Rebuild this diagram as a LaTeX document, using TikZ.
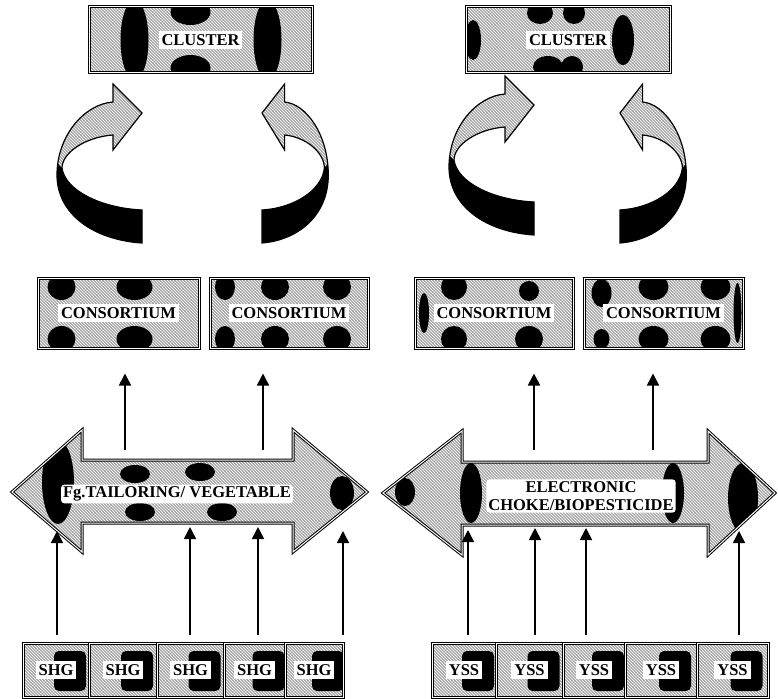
\documentclass[tikz,border=0pt]{standalone}
\usepackage{fontspec}
\setmainfont{Liberation Serif}
\usetikzlibrary{arrows.meta,calc,patterns}
\newcommand\lab[1]{{\setlength\fboxsep{3pt}\colorbox{white}{#1}}}
\newcommand\blb[4]{\fill[black] ($(path picture bounding box.center)+(#1,#2)$) ellipse [x radius=#3pt, y radius=#4pt];}
\newcommand\sblk{\fill[black, rounded corners=5pt] ($(path picture bounding box.center)+(-2,-19)$) rectangle ($(path picture bounding box.center)+(30,21)$);}
\newcommand\cpath{(0,130) .. controls (-47,127) and (-85,102) .. (-85,62) .. controls (-85,22) and (-57,-9) .. (-29,-11) -- (-29,-29) -- (0,0) -- (-29,37) -- (-29,22) .. controls (-57,24) and (-80,40) .. (-80,55) .. controls (-77,77) and (-42,95) .. (0,97) -- cycle}
\newcommand\daL{(12,492) -- (82,430) -- (82,460) -- (293,460) -- (293,430) -- (367,492) -- (293,552) -- (293,523) -- (82,523) -- (82,552) -- cycle}
\newcommand\daR{(383,493) -- (462,431) -- (462,462) -- (708,462) -- (708,431) -- (775,493) -- (708,555) -- (708,525) -- (462,525) -- (462,555) -- cycle}
\newcommand\carrow{\path[tex] \cpath;
  \begin{scope}\clip \cpath; \fill[black] (-100,36) -- (-80,55) -- (0,88) -- (10,88) -- (10,150) -- (-100,150) -- cycle;\end{scope}
  \draw[line width=1.2pt] \cpath;}
\tikzset{
  tex/.style={preaction={fill=gray!68}, preaction={pattern=north west lines, pattern color=white}},
  frame/.style={draw=black, line width=1pt, double=white, double distance=1pt},
  bigfont/.style={font=\fontsize{16.5}{18}\selectfont\bfseries},
  panel/.style={frame, tex, inner sep=0pt, bigfont},
  small/.style={panel, minimum height=54pt, path picture={\sblk}},
  lbl/.style={fill=white, rounded corners=3pt, inner sep=2pt, bigfont, align=center},
  up/.style={-{Triangle[width=12pt,length=12pt]}, line width=1.6pt}
}
\begin{document}
\begin{tikzpicture}[x=1pt,y=-1pt]
\useasboundingbox (0,0) rectangle (778,698);

% clusters
\node[panel, minimum width=223pt, minimum height=66pt,
  path picture={\blb{-66}{0}{14}{40}\blb{-10}{-28}{20}{13}\blb{-10}{28}{20}{13}\blb{67}{0}{14}{40}}]
  (cl1) at (200.5,40) {\lab{CLUSTER}};
\node[panel, minimum width=204pt, minimum height=66pt,
  path picture={\blb{-95}{0}{8}{20}\blb{-28}{-27}{13}{11}\blb{6}{-27}{11}{11}\blb{-20}{27}{15}{11}\blb{4}{27}{11}{11}\blb{55}{0}{11}{25}}]
  (cl2) at (568,40) {\lab{CLUSTER}};

% curved arrows
\begin{scope}[shift={(142,113)}]\carrow\end{scope}
\begin{scope}[shift={(262,113)}, xscale=-0.78]\carrow\end{scope}
\begin{scope}[shift={(534,105)}]\carrow\end{scope}
\begin{scope}[shift={(620,113)}, xscale=-0.78]\carrow\end{scope}

% consortium
\node[panel, minimum width=161pt, minimum height=70pt,
  path picture={\blb{-57}{-26}{14}{13}\blb{-57}{26}{14}{13}\blb{16}{-26}{18}{13}\blb{16}{26}{18}{13}}]
  (cn1) at (118.5,313) {\lab{CONSORTIUM}};
\node[panel, minimum width=158pt, minimum height=70pt,
  path picture={\blb{-64}{-26}{10}{13}\blb{-64}{26}{10}{13}\blb{-14}{-26}{14}{13}\blb{-14}{26}{14}{13}\blb{48}{-26}{14}{13}\blb{48}{26}{14}{13}}]
  (cn2) at (289,313) {\lab{CONSORTIUM}};
\node[panel, minimum width=158pt, minimum height=70pt,
  path picture={\blb{-40}{-26}{13}{13}\blb{-40}{26}{13}{13}\blb{35}{-22}{10}{10}\blb{35}{26}{14}{13}\blb{-70}{0}{5}{20}}]
  (cn3) at (494,313) {\lab{CONSORTIUM}};
\node[panel, minimum width=159pt, minimum height=70pt,
  path picture={\blb{-62}{-20}{10}{14}\blb{-62}{26}{8}{10}\blb{-10}{-26}{15}{13}\blb{-10}{26}{15}{13}\blb{52}{-26}{15}{13}\blb{52}{26}{15}{13}\blb{74}{0}{4}{30}}]
  (cn4) at (663.5,313) {\lab{CONSORTIUM}};

% double arrows
\path[tex] \daL;
\begin{scope}\clip \daL;
  \fill[black] (58,482) ellipse [x radius=16pt, y radius=42pt];
  \fill[black] (135,474) ellipse [x radius=15pt, y radius=9pt];
  \fill[black] (200,472) ellipse [x radius=15pt, y radius=9pt];
  \fill[black] (140,512) ellipse [x radius=15pt, y radius=9pt];
  \fill[black] (222,512) ellipse [x radius=15pt, y radius=9pt];
  \fill[black] (342,493) ellipse [x radius=12pt, y radius=17pt];
\end{scope}
\draw[frame] \daL;
\node[lbl] (t1) at (177,494) {Fg.TAILORING/ VEGETABLE};

\path[tex] \daR;
\begin{scope}\clip \daR;
  \fill[black] (405,492) ellipse [x radius=10pt, y radius=14pt];
  \fill[black] (471,493) ellipse [x radius=11pt, y radius=30pt];
  \fill[black] (673,493) ellipse [x radius=11pt, y radius=30pt];
  \fill[black] (743,498) ellipse [x radius=15pt, y radius=35pt];
\end{scope}
\draw[frame] \daR;
\node[lbl] (t2) at (581,496) {ELECTRONIC\\CHOKE/BIOPESTICIDE};

% SHG boxes
\node[small, minimum width=66pt] (sh1) at (56,670) {\lab{SHG}};
\node[small, minimum width=68pt] (sh2) at (123,670) {\lab{SHG}};
\node[small, minimum width=67pt] (sh3) at (190.5,670) {\lab{SHG}};
\node[small, minimum width=61pt] (sh4) at (254.5,670) {\lab{SHG}};
\node[small, minimum width=58pt] (sh5) at (314,670) {\lab{SHG}};

% YSS boxes
\node[small, minimum width=64pt] (ys1) at (464,670) {\lab{YSS}};
\node[small, minimum width=67pt] (ys2) at (529.5,670) {\lab{YSS}};
\node[small, minimum width=62pt] (ys3) at (594,670) {\lab{YSS}};
\node[small, minimum width=72pt] (ys4) at (661,670) {\lab{YSS}};
\node[small, minimum width=71pt] (ys5) at (732.5,670) {\lab{YSS}};

% connectors up to consortium
\coordinate (p1) at (125,450);
\coordinate (p2) at (263,450);
\coordinate (p3) at (534,450);
\coordinate (p4) at (653,450);
\draw[up, shorten >=25pt] (p1) -- (cn1.south -| p1);
\draw[up, shorten >=25pt] (p2) -- (cn2.south -| p2);
\draw[up, shorten >=25pt] (p3) -- (cn3.south -| p3);
\draw[up, shorten >=25pt] (p4) -- (cn4.south -| p4);

% connectors from SHG / YSS
\coordinate (q1) at (57,531);
\coordinate (q2) at (190,527);
\coordinate (q3) at (258,527);
\coordinate (q4) at (343,531);
\coordinate (r1) at (468,530);
\coordinate (r2) at (535,528);
\coordinate (r3) at (586,528);
\coordinate (r4) at (739,531);
\draw[up, shorten <=8pt] (sh1.north -| q1) -- (q1);
\draw[up, shorten <=8pt] (sh3.north -| q2) -- (q2);
\draw[up, shorten <=8pt] (sh4.north -| q3) -- (q3);
\draw[up, shorten <=8pt] (sh5.north -| q4) -- (q4);
\draw[up, shorten <=8pt] (ys1.north -| r1) -- (r1);
\draw[up, shorten <=8pt] (ys2.north -| r2) -- (r2);
\draw[up, shorten <=8pt] (ys3.north -| r3) -- (r3);
\draw[up, shorten <=8pt] (ys5.north -| r4) -- (r4);
\end{tikzpicture}
\end{document}
